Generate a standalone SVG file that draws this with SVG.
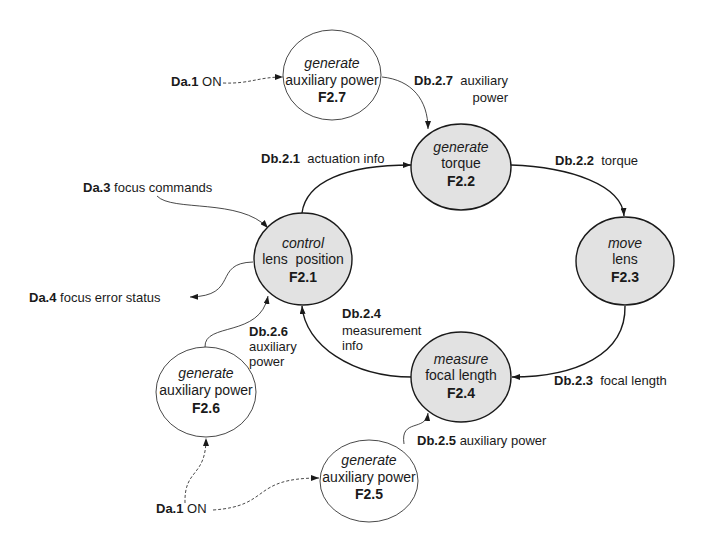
<svg xmlns="http://www.w3.org/2000/svg" width="713" height="535" viewBox="0 0 713 535">
<style>
text{font-family:"Liberation Sans",Arial,sans-serif;fill:#1a1a1a}
.n{font-size:14px;text-anchor:middle}
.l{font-size:13px}
.i{font-style:italic}
.b{font-weight:bold}
.main{fill:#e2e2e2;stroke:#1a1a1a;stroke-width:1.4}
.aux{fill:#fff;stroke:#1a1a1a;stroke-width:0.8}
.c{fill:none;stroke:#1a1a1a;stroke-width:0.8}
.ct{fill:none;stroke:#1a1a1a;stroke-width:1.4}
.d{fill:none;stroke:#1a1a1a;stroke-width:0.8;stroke-dasharray:3,2}
</style>
<defs>
<marker id="a" viewBox="0 0 8 6" refX="8" refY="3" markerWidth="8" markerHeight="6" markerUnits="userSpaceOnUse" orient="auto">
<path d="M0,0 L8,3 L0,6 z" fill="#1a1a1a"/>
</marker>
</defs>
<g id="connectors">
<path class="d" d="M223,83 C250,84 258,77 283,77" marker-end="url(#a)"/>
<path class="c" d="M382,77 C412,80 428,100 428,129" marker-end="url(#a)"/>
<path class="ct" d="M302,213 C306,182 345,165 411,165" marker-end="url(#a)"/>
<path class="ct" d="M511,165 C570,167 622,185 624,216" marker-end="url(#a)"/>
<path class="ct" d="M625,306 C626,355 575,377 512,377" marker-end="url(#a)"/>
<path class="ct" d="M412,377 C352,377 305,345 302,306" marker-end="url(#a)"/>
<path class="c" d="M157,196 C172,212 240,198 268,228" marker-end="url(#a)"/>
<path class="c" d="M253,262 C212,263 240,296 190,297" marker-end="url(#a)"/>
<path class="c" d="M205,347 C204,322 260,338 268,296" marker-end="url(#a)"/>
<path class="d" d="M185,503 C184,468 206,478 206,438" marker-end="url(#a)"/>
<path class="d" d="M213,510 C272,506 250,478 319,478" marker-end="url(#a)"/>
<path class="c" d="M404,444 C400,418 426,432 428,413" marker-end="url(#a)"/>
</g>
<g id="F2.7">
<ellipse class="aux" cx="332" cy="75" rx="49" ry="45"/>
<text class="n i" x="332" y="68">generate</text>
<text class="n" x="332" y="85">auxiliary power</text>
<text class="n b" x="332" y="102">F2.7</text>
</g>
<g id="F2.2">
<ellipse class="main" cx="461" cy="167" rx="50" ry="43"/>
<text class="n i" x="461" y="152">generate</text>
<text class="n" x="461" y="168">torque</text>
<text class="n b" x="461" y="186">F2.2</text>
</g>
<g id="F2.3">
<ellipse class="main" cx="625" cy="261" rx="49" ry="44"/>
<text class="n i" x="625" y="248">move</text>
<text class="n" x="625" y="264">lens</text>
<text class="n b" x="625" y="282">F2.3</text>
</g>
<g id="F2.4">
<ellipse class="main" cx="461" cy="377" rx="50" ry="45"/>
<text class="n i" x="461" y="364">measure</text>
<text class="n" x="461" y="380">focal length</text>
<text class="n b" x="461" y="398">F2.4</text>
</g>
<g id="F2.1">
<ellipse class="main" cx="303" cy="259" rx="49" ry="46"/>
<text class="n i" x="303" y="248">control</text>
<text class="n" x="303" y="264" xml:space="preserve">lens  position</text>
<text class="n b" x="303" y="282">F2.1</text>
</g>
<g id="F2.6">
<ellipse class="aux" cx="206" cy="392" rx="50" ry="45"/>
<text class="n i" x="206" y="378">generate</text>
<text class="n" x="206" y="395">auxiliary power</text>
<text class="n b" x="206" y="413">F2.6</text>
</g>
<g id="F2.5">
<ellipse class="aux" cx="369" cy="481" rx="49" ry="41"/>
<text class="n i" x="369" y="465">generate</text>
<text class="n" x="369" y="482">auxiliary power</text>
<text class="n b" x="369" y="499">F2.5</text>
</g>
<g id="labels">
<text class="l" x="171" y="86"><tspan class="b">Da.1</tspan> ON</text>
<text class="l" x="508" y="85" text-anchor="end" xml:space="preserve"><tspan class="b">Db.2.7</tspan>  auxiliary</text>
<text class="l" x="508" y="102" text-anchor="end">power</text>
<text class="l" x="261" y="163" xml:space="preserve"><tspan class="b">Db.2.1</tspan>  actuation info</text>
<text class="l" x="83" y="192"><tspan class="b">Da.3</tspan> focus commands</text>
<text class="l" x="555" y="165" xml:space="preserve"><tspan class="b">Db.2.2</tspan>  torque</text>
<text class="l" x="554" y="385" xml:space="preserve"><tspan class="b">Db.2.3</tspan>  focal length</text>
<text class="l" x="29" y="302"><tspan class="b">Da.4</tspan> focus error status</text>
<text class="l b" x="249" y="336">Db.2.6</text>
<text class="l" x="249" y="351">auxiliary</text>
<text class="l" x="249" y="366">power</text>
<text class="l b" x="342" y="318">Db.2.4</text>
<text class="l" x="342" y="335">measurement</text>
<text class="l" x="342" y="350">info</text>
<text class="l" x="417" y="445"><tspan class="b">Db.2.5</tspan> auxiliary power</text>
<text class="l" x="156" y="513"><tspan class="b">Da.1</tspan> ON</text>
</g>
</svg>
